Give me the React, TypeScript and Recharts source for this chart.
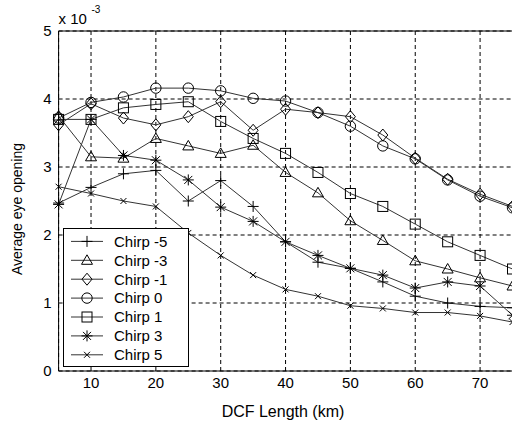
import React from 'react';
import { LineChart, Line, XAxis, YAxis, CartesianGrid, ReferenceLine, Legend } from 'recharts';

const dcfLength = [5, 10, 15, 20, 25, 30, 35, 40, 45, 50, 55, 60, 65, 70, 75];
const chirpM5 = [2.47, 2.7, 2.9, 2.95, 2.5, 2.8, 2.42, 1.9, 1.6, 1.51, 1.31, 1.1, 1.0, 0.95, 0.93];
const chirpM3 = [3.75, 3.15, 3.13, 3.42, 3.31, 3.2, 3.32, 2.92, 2.62, 2.21, 1.92, 1.62, 1.5, 1.37, 1.25];
const chirpM1 = [3.62, 3.93, 3.72, 3.62, 3.74, 3.96, 3.54, 3.85, 3.8, 3.74, 3.47, 3.13, 2.82, 2.6, 2.42];
const chirp0 = [3.72, 3.95, 4.03, 4.16, 4.16, 4.12, 4.01, 3.97, 3.8, 3.6, 3.31, 3.12, 2.81, 2.57, 2.4];
const chirpP1 = [3.7, 3.7, 3.87, 3.92, 3.96, 3.67, 3.42, 3.2, 2.92, 2.61, 2.42, 2.16, 1.9, 1.7, 1.5];
const chirpP3 = [2.45, 3.7, 3.17, 3.1, 2.81, 2.41, 2.2, 1.9, 1.7, 1.51, 1.41, 1.22, 1.31, 1.25, 0.82];
const chirpP5 = [2.71, 2.61, 2.5, 2.42, 2.03, 1.7, 1.41, 1.2, 1.1, 0.96, 0.92, 0.86, 0.86, 0.81, 0.72];
const xTicks = [10, 20, 30, 40, 50, 60, 70];
const yTicks = [0, 1, 2, 3, 4, 5];

const seriesList = [
  { key: 'm5', name: 'Chirp -5', values: chirpM5, shape: 'plus' },
  { key: 'm3', name: 'Chirp -3', values: chirpM3, shape: 'triangle' },
  { key: 'm1', name: 'Chirp -1', values: chirpM1, shape: 'diamond' },
  { key: 'z0', name: 'Chirp 0', values: chirp0, shape: 'circle' },
  { key: 'p1', name: 'Chirp 1', values: chirpP1, shape: 'square' },
  { key: 'p3', name: 'Chirp 3', values: chirpP3, shape: 'star' },
  { key: 'p5', name: 'Chirp 5', values: chirpP5, shape: 'x' },
];

const data = dcfLength.map((x, i) => {
  const row: any = { x };
  seriesList.forEach((s) => { row[s.key] = s.values[i]; });
  return row;
});

const FONT = '"Liberation Sans", Arial, sans-serif';

function Marker({ shape, cx, cy }: { shape: string; cx: number; cy: number }) {
  const st = { fill: 'none', stroke: '#000', strokeWidth: 1 };
  switch (shape) {
    case 'circle':
      return <circle cx={cx} cy={cy} r={5.2} {...st} />;
    case 'square':
      return <rect x={cx - 5} y={cy - 5} width={10} height={10} {...st} />;
    case 'triangle':
      return <polygon points={`${cx},${cy - 5.5} ${cx - 5.5},${cy + 4} ${cx + 5.5},${cy + 4}`} {...st} />;
    case 'diamond':
      return <polygon points={`${cx},${cy - 6} ${cx + 5},${cy} ${cx},${cy + 6} ${cx - 5},${cy}`} {...st} />;
    case 'plus':
      return <path d={`M${cx - 5.5},${cy}H${cx + 5.5}M${cx},${cy - 5.5}V${cy + 5.5}`} {...st} />;
    case 'star':
      return (
        <path
          d={`M${cx - 5.5},${cy}H${cx + 5.5}M${cx},${cy - 5.5}V${cy + 5.5}M${cx - 4},${cy - 4}L${cx + 4},${cy + 4}M${cx - 4},${cy + 4}L${cx + 4},${cy - 4}`}
          {...st}
        />
      );
    case 'x':
    default:
      return <path d={`M${cx - 3},${cy - 3}L${cx + 3},${cy + 3}M${cx - 3},${cy + 3}L${cx + 3},${cy - 3}`} {...st} />;
  }
}

function LegendBox() {
  return (
    <div style={{ width: 126, height: 139, border: '1px solid #000', background: '#fff', boxSizing: 'border-box' }}>
      <svg width={124} height={137} style={{ display: 'block' }}>
        {seriesList.map((s, i) => {
          const y = 12.4 + i * 18.9;
          return (
            <g key={s.key}>
              <line x1={7} x2={39} y1={y} y2={y} stroke="#333" strokeWidth={1} />
              <Marker shape={s.shape} cx={23} cy={y} />
              <text x={50} y={y + 5.3} fontFamily={FONT} fontSize={15} fill="#000">{s.name}</text>
            </g>
          );
        })}
      </svg>
    </div>
  );
}

export default function App() {
  return (
    <div style={{ position: 'absolute', left: 0, top: 0, width: 512, height: 424, overflow: 'hidden', background: '#fff' }}>
      <LineChart width={530} height={424} data={data} margin={{ top: 31, right: 17.5, bottom: 0, left: 0 }}>
        <CartesianGrid stroke="#000" strokeDasharray="4 3" />
        <XAxis
          dataKey="x"
          type="number"
          domain={[5, 75]}
          ticks={xTicks}
          height={53}
          axisLine={{ stroke: '#000' }}
          tickLine={false}
          tickSize={0}
          tickMargin={6.5}
          tick={{ fill: '#000', fontSize: 15, fontFamily: FONT }}
          label={{
            content: () => (
              <text x={283} y={416.5} textAnchor="middle" fontFamily={FONT} fontSize={16} fill="#000">DCF Length (km)</text>
            ),
          }}
        />
        <YAxis
          type="number"
          domain={[0, 5]}
          ticks={yTicks}
          width={58.6}
          axisLine={{ stroke: '#000' }}
          tickLine={false}
          tickSize={0}
          tickMargin={7}
          tick={{ fill: '#000', fontSize: 15, fontFamily: FONT }}
          label={{
            content: () => (
              <text x={22} y={209} transform="rotate(-90 22 209)" textAnchor="middle" fontFamily={FONT} fontSize={14} fill="#000">Average eye opening</text>
            ),
          }}
        />
        <ReferenceLine y={5} stroke="#000" strokeWidth={1} />
        {seriesList.map((s) => (
          <Line
            key={s.key}
            dataKey={s.key}
            name={s.name}
            stroke="#333"
            strokeWidth={1}
            isAnimationActive={false}
            dot={(p: any) => <Marker key={`${s.key}-${p.index}`} shape={s.shape} cx={p.cx} cy={p.cy} />}
            activeDot={false}
          />
        ))}
        <Legend
          layout="vertical"
          align="center"
          verticalAlign="middle"
          wrapperStyle={{ left: 62.7, top: 228.3, width: 126, height: 139 }}
          content={() => <LegendBox />}
        />
      </LineChart>
      <svg width={120} height={30} style={{ position: 'absolute', left: 0, top: 0 }}>
        <text x={58.5} y={24} fontFamily={FONT} fontSize={15} fill="#000">x 10</text>
        <text x={91.5} y={13} fontFamily={FONT} fontSize={10} fill="#000">-3</text>
      </svg>
    </div>
  );
}
